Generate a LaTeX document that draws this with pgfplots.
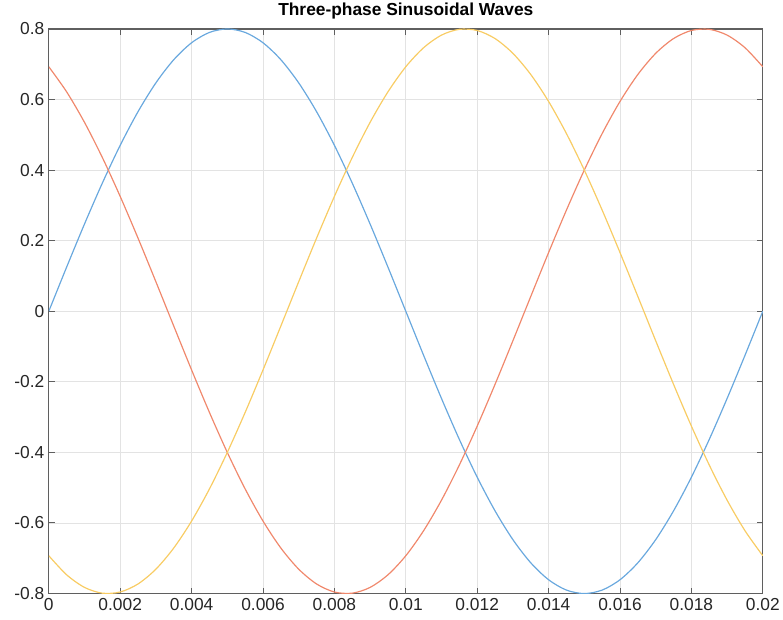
\documentclass[border=0pt]{standalone}
\usepackage{pgfplots}
\pgfplotsset{compat=1.18}
\usepackage{fontspec}
\setmainfont{Liberation Sans}
\definecolor{cblue}{RGB}{105,168,222}
\definecolor{cred}{RGB}{240,136,108}
\definecolor{cyel}{RGB}{248,204,100}
\definecolor{axgray}{RGB}{95,95,95}
\begin{document}
\begin{tikzpicture}
\begin{axis}[
  name=ax,
  width=717bp, height=567bp, scale only axis,
  xmin=0, xmax=0.02, ymin=-0.8, ymax=0.8,
  scaled x ticks=false, scaled y ticks=false,
  xtick={0,0.002,0.004,0.006,0.008,0.01,0.012,0.014,0.016,0.018,0.02},
  xticklabels={0,0.002,0.004,0.006,0.008,0.01,0.012,0.014,0.016,0.018,0.02},
  ytick={-0.8,-0.6,-0.4,-0.2,0,0.2,0.4,0.6,0.8},
  yticklabels={-0.8,-0.6,-0.4,-0.2,0,0.2,0.4,0.6,0.8},
  tick label style={font=\fontsize{17.5}{20}\selectfont, text=black!85},
  tick align=inside,
  major tick length=6bp,
  every tick/.style={axgray, line width=1pt},
  axis line style={axgray, line width=1.2pt},
  grid=major,
  major grid style={gray!22, line width=0.7pt},
  title={\bfseries Three-phase Sinusoidal Waves},
  title style={font=\fontsize{17.5}{20}\selectfont, at={(0.5,1)}, anchor=south, yshift=0bp},
  xticklabel style={yshift=-1bp},
  yticklabel style={xshift=-1bp},
]
\addplot[cblue, line width=1.2pt, smooth] coordinates {
(0,0) (0.0005,0.12515) (0.001,0.24721) (0.0015,0.36319) (0.002,0.47023)
(0.0025,0.56569) (0.003,0.64721) (0.0035,0.71281) (0.004,0.76085) (0.0045,0.79015)
(0.005,0.8) (0.0055,0.79015) (0.006,0.76085) (0.0065,0.71281) (0.007,0.64721)
(0.0075,0.56569) (0.008,0.47023) (0.0085,0.36319) (0.009,0.24721) (0.0095,0.12515)
(0.01,0) (0.0105,-0.12515) (0.011,-0.24721) (0.0115,-0.36319) (0.012,-0.47023)
(0.0125,-0.56569) (0.013,-0.64721) (0.0135,-0.71281) (0.014,-0.76085) (0.0145,-0.79015)
(0.015,-0.8) (0.0155,-0.79015) (0.016,-0.76085) (0.0165,-0.71281) (0.017,-0.64721)
(0.0175,-0.56569) (0.018,-0.47023) (0.0185,-0.36319) (0.019,-0.24721) (0.0195,-0.12515)
(0.02,0)
};
\addplot[cred, line width=1.2pt, smooth] coordinates {
(0,0.69282) (0.0005,0.62172) (0.001,0.53530) (0.0015,0.43571) (0.002,0.32539)
(0.0025,0.20706) (0.003,0.08362) (0.0035,-0.04187) (0.004,-0.16633) (0.0045,-0.28669)
(0.005,-0.4) (0.0055,-0.50346) (0.006,-0.59451) (0.0065,-0.67094) (0.007,-0.73084)
(0.0075,-0.77274) (0.008,-0.79562) (0.0085,-0.79890) (0.009,-0.78252) (0.0095,-0.74686)
(0.01,-0.69282) (0.0105,-0.62172) (0.011,-0.53530) (0.0115,-0.43571) (0.012,-0.32539)
(0.0125,-0.20706) (0.013,-0.08362) (0.0135,0.04187) (0.014,0.16633) (0.0145,0.28669)
(0.015,0.4) (0.0155,0.50346) (0.016,0.59451) (0.0165,0.67094) (0.017,0.73084)
(0.0175,0.77274) (0.018,0.79562) (0.0185,0.79890) (0.019,0.78252) (0.0195,0.74686)
(0.02,0.69282)
};
\addplot[cyel, line width=1.2pt, smooth] coordinates {
(0,-0.69282) (0.0005,-0.74686) (0.001,-0.78252) (0.0015,-0.79890) (0.002,-0.79562)
(0.0025,-0.77274) (0.003,-0.73084) (0.0035,-0.67094) (0.004,-0.59451) (0.0045,-0.50346)
(0.005,-0.4) (0.0055,-0.28669) (0.006,-0.16633) (0.0065,-0.04187) (0.007,0.08362)
(0.0075,0.20706) (0.008,0.32539) (0.0085,0.43571) (0.009,0.53530) (0.0095,0.62172)
(0.01,0.69282) (0.0105,0.74686) (0.011,0.78252) (0.0115,0.79890) (0.012,0.79562)
(0.0125,0.77274) (0.013,0.73084) (0.0135,0.67094) (0.014,0.59451) (0.0145,0.50346)
(0.015,0.4) (0.0155,0.28669) (0.016,0.16633) (0.0165,0.04187) (0.017,-0.08362)
(0.0175,-0.20706) (0.018,-0.32539) (0.0185,-0.43571) (0.019,-0.53530) (0.0195,-0.62172)
(0.02,-0.69282)
};
\end{axis}
\path (ax.south west) ++(-49bp,-26bp) coordinate (bbA);
\path (ax.north east) ++(17bp,28bp) coordinate (bbB);
\end{tikzpicture}
\end{document}
